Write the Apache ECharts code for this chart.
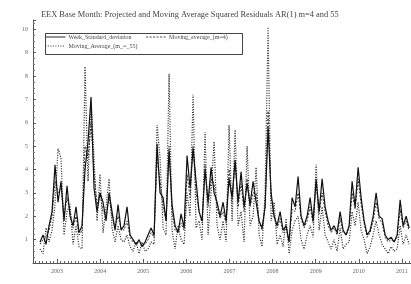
<!DOCTYPE html>
<html><head><meta charset="utf-8">
<script src="https://cdn.jsdelivr.net/npm/echarts@6/dist/echarts.min.js"></script>
<style>html,body{margin:0;padding:0;background:#fff}#c{width:411px;height:284px}</style>
</head><body><div id="c"></div>
<script>
const titleText = 'EEX Base Month: Projected and Moving Average Squared Residuals AR(1) m=4 and 55';
const seriesNames = ['Week_Standard_deviation', 'Moving_average_(m=4)', 'Moving_Average_(m_=_55)'];
const yearLabels = [2003, 2004, 2005, 2006, 2007, 2008, 2009, 2010, 2011];
const startYear = 2002.606, stepYears = 0.0696;
const weekSD = [0.9,1.2,0.8,1.6,2.2,4.2,2.6,3.5,1.8,3.3,
2.0,1.6,2.4,1.3,1.6,4.0,5.2,7.1,3.2,2.2,
3.0,2.6,1.8,3.0,2.2,1.4,2.5,1.4,1.6,2.4,
1.2,1.0,0.8,1.0,0.7,0.9,1.2,1.5,1.2,5.1,
3.0,2.8,1.8,4.8,2.5,1.6,1.3,2.1,1.5,4.6,
3.2,4.9,3.5,2.2,1.8,4.0,2.6,4.1,3.0,2.6,
2.0,2.6,1.8,3.6,2.8,4.4,2.6,3.9,2.4,3.4,
2.5,3.5,2.6,1.8,1.5,2.4,5.8,3.0,2.0,1.6,
2.2,1.4,1.6,0.9,2.8,2.4,3.7,2.0,1.6,2.0,
2.8,1.8,3.6,2.2,3.6,2.4,1.8,1.4,1.6,1.3,
2.2,1.4,1.2,1.6,3.5,2.4,4.1,2.8,1.8,1.2,
1.4,2.0,3.0,2.0,1.9,1.2,1.0,1.1,0.9,1.2,
2.7,1.6,2.0,1.5];
const ma4 = [0.8,1.0,1.1,1.4,2.0,3.5,3.0,3.2,2.0,2.8,
2.2,1.5,2.0,1.2,1.4,5.0,4.5,6.0,3.8,2.5,
3.0,2.2,2.0,2.8,2.0,1.5,2.0,1.5,1.4,1.8,
1.1,0.9,0.8,0.9,0.8,0.8,1.0,1.3,1.1,4.5,
3.5,2.4,1.8,5.0,2.2,1.4,1.3,1.7,1.4,3.8,
2.8,5.0,3.0,2.2,1.7,4.2,2.4,3.6,3.4,2.4,
1.9,2.2,1.7,4.0,2.6,4.4,2.4,3.4,2.2,3.6,
2.4,3.0,3.0,1.8,1.4,2.4,6.5,2.8,2.0,1.5,
1.9,1.3,1.5,0.9,2.3,2.2,3.0,1.9,1.5,1.8,
2.4,1.7,3.4,2.1,3.0,2.2,1.6,1.3,1.5,1.2,
1.9,1.3,1.2,1.5,3.0,2.3,3.6,2.5,1.7,1.1,
1.3,1.8,2.6,1.9,1.7,1.1,0.9,1.0,0.9,1.1,
2.3,1.5,1.8,1.4];
const ma55 = [0.6,0.4,1.5,0.9,1.4,2.5,4.9,4.5,1.2,2.2,
2.5,0.8,1.6,0.7,0.6,8.4,3.5,7.0,4.5,1.8,
3.8,1.3,2.4,3.6,1.5,0.9,1.6,1.0,0.9,1.2,
0.7,0.5,0.9,0.4,0.9,0.5,0.6,0.9,0.8,5.9,
4.5,1.5,1.2,8.1,1.4,0.6,1.6,1.0,0.8,3.0,
2.0,7.2,1.5,1.8,1.0,5.6,1.2,3.0,5.2,1.6,
1.0,1.8,0.9,5.9,1.8,5.7,1.6,2.2,0.9,5.0,
1.6,2.0,4.1,1.2,0.7,3.0,10.1,1.8,2.6,0.8,
1.2,0.7,1.9,0.4,1.4,1.8,2.0,1.0,0.6,1.2,
1.6,1.1,4.2,1.4,2.4,1.2,0.9,0.6,1.0,0.5,
1.5,0.6,0.8,0.9,2.2,1.6,2.6,1.4,1.0,0.4,
0.7,1.2,1.8,1.2,0.8,0.6,0.4,0.7,0.5,0.6,
1.6,0.8,1.2,0.8];

const xs = weekSD.map((_, i) => +(startYear + i * stepYears).toFixed(4));
const pair = arr => arr.map((v, i) => [xs[i], v]);
const monthTicks = [];
for (let m = 2002.5; m < 2011.2; m += 1/12) monthTicks.push(+m.toFixed(4));

const xMin = 2002.443, xMax = 2011.21;
const serif = 'Liberation Serif';
const legendCommon = {padding: 0, itemWidth: 20, itemHeight: 4,
  itemStyle: {opacity: 0}, lineStyle: {width: 0.9},
  textStyle: {fontFamily: serif, fontSize: 6, color: '#444', padding: [0, 0, 0, -2]}};
const chart = echarts.init(document.getElementById('c'), null, {renderer: 'canvas'});
chart.setOption({
  animation: false,
  backgroundColor: '#fff',
  title: {text: titleText, left: 36, top: 6, textStyle: {fontFamily: serif, fontSize: 8.4, fontWeight: 'normal', color: '#444'}},
  grid: {left: 33, right: 0, top: 20, bottom: 21},
  legend: [
    Object.assign({data: [seriesNames[0], seriesNames[1]], left: 45, top: 34, itemGap: 14}, legendCommon),
    Object.assign({data: [seriesNames[2]], left: 45, top: 43}, legendCommon)
  ],
  graphic: [{type: 'rect', left: 43, top: 31, shape: {width: 197, height: 21}, style: {fill: 'none', stroke: '#444', lineWidth: 1}, z: 10}],
  xAxis: [
    {type: 'value', min: xMin, max: xMax, position: 'bottom',
     axisLine: {show: true, lineStyle: {color: '#555', width: 1}},
     axisTick: {show: true, inside: true, length: 4, customValues: yearLabels, lineStyle: {color: '#555'}},
     axisLabel: {customValues: yearLabels, fontFamily: serif, fontSize: 6, color: '#666', margin: 5, formatter: v => String(Math.round(v))},
     splitLine: {show: false}},
    {type: 'value', min: xMin, max: xMax, position: 'bottom',
     axisLine: {show: false},
     axisTick: {show: true, inside: true, length: 2, customValues: monthTicks, lineStyle: {color: '#666'}},
     axisLabel: {show: false}, splitLine: {show: false}}
  ],
  yAxis: {type: 'value', min: 0, max: 10.4, interval: 1,
    axisLine: {show: true, lineStyle: {color: '#555', width: 1}},
    axisTick: {show: true, inside: true, length: 3, lineStyle: {color: '#555'}},
    minorTick: {show: true, splitNumber: 4, length: 2, lineStyle: {color: '#777'}},
    axisLabel: {fontFamily: serif, fontSize: 6, color: '#666', margin: 5, showMinLabel: false,
      formatter: v => (Math.abs(v - Math.round(v)) < 1e-6 && v > 0) ? String(Math.round(v)) : ''},
    splitLine: {show: false}},
  series: [
    {name: seriesNames[2], type: 'line', data: pair(ma55), showSymbol: false, symbol: 'none',
     lineStyle: {color: '#222', width: 1.2, type: [1, 1.5]}, itemStyle: {color: '#222'}, z: 2},
    {name: seriesNames[1], type: 'line', data: pair(ma4), showSymbol: false, symbol: 'none',
     lineStyle: {color: '#333', width: 1, type: [2, 1.5]}, itemStyle: {color: '#333'}, z: 3},
    {name: seriesNames[0], type: 'line', data: pair(weekSD), showSymbol: false, symbol: 'none',
     lineStyle: {color: '#111', width: 1.2}, itemStyle: {color: '#111'}, z: 4}
  ]
});
</script></body></html>
